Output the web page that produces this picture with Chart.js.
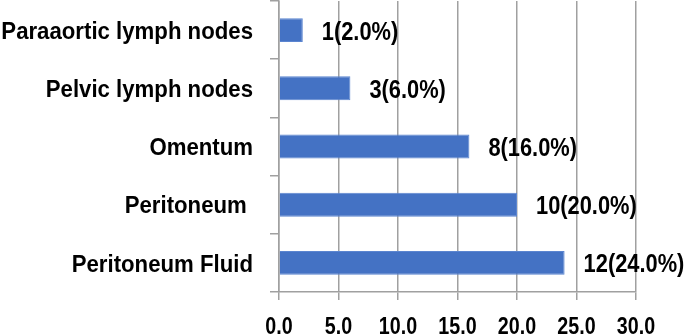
<!DOCTYPE html>
<html>
<head>
<meta charset="utf-8">
<script src="https://cdn.jsdelivr.net/npm/chart.js@4/dist/chart.umd.min.js"></script>
<style>
html,body{margin:0;padding:0;background:#fff;}
#wrap{width:685px;height:335px;position:relative;}
</style>
</head>
<body>
<div id="wrap"><canvas id="c" width="685" height="335"></canvas></div>
<script>
const categories = ['Paraaortic lymph nodes', 'Pelvic lymph nodes', 'Omentum', 'Peritoneum ', 'Peritoneum Fluid'];
const counts = [1, 3, 8, 10, 12];
const percents = [2.0, 6.0, 16.0, 20.0, 24.0];
const xTicks = [0, 5, 10, 15, 20, 25, 30];

const FONT = "'Liberation Sans', Arial, sans-serif";
const GRID = '#a0a0a0';

function squeezeText(ctx, text, x, y, sx, align) {
  ctx.save();
  ctx.translate(x, y);
  ctx.scale(sx, 1);
  ctx.textAlign = align;
  ctx.textBaseline = 'alphabetic';
  ctx.fillText(text, 0, 0);
  ctx.restore();
}

const textPlugin = {
  id: 'textPlugin',
  afterDraw(chart) {
    const ctx = chart.ctx;
    ctx.save();
    ctx.fillStyle = '#000';
    // category labels
    const ys = chart.scales.y;
    ctx.font = 'bold 24px ' + FONT;
    ys.ticks.forEach((t, i) => {
      const y = ys.getPixelForTick(i);
      squeezeText(ctx, ys.getLabelForValue(t.value), ys.right - 9 - 17, y + 8.6, 0.925, 'right');
    });
    // x tick labels
    const xs = chart.scales.x;
    ctx.font = 'bold 24px ' + FONT;
    xs.ticks.forEach(t => {
      const x = xs.getPixelForValue(t.value);
      squeezeText(ctx, Number(t.value).toFixed(1), x, xs.top + 42, 0.82, 'center');
    });
    // data labels
    const meta = chart.getDatasetMeta(0);
    ctx.font = 'bold 26px ' + FONT;
    meta.data.forEach((bar, i) => {
      squeezeText(ctx, counts[i] + '(' + percents[i].toFixed(1) + '%)', bar.x + 19, bar.y + 9.5, 0.84, 'left');
    });
    ctx.restore();
  }
};

new Chart(document.getElementById('c'), {
  type: 'bar',
  data: {
    labels: categories,
    datasets: [{
      data: percents,
      backgroundColor: '#4472C4',
      borderColor: '#5b85d0',
      borderWidth: 1,
      barPercentage: 0.41,
      categoryPercentage: 1.0
    }]
  },
  options: {
    indexAxis: 'y',
    responsive: false,
    animation: false,
    layout: { padding: { left: 0, right: 49, top: 1, bottom: 0 } },
    plugins: { legend: { display: false }, tooltip: { enabled: false } },
    scales: {
      x: {
        min: 0, max: 30,
        afterBuildTicks(scale) { scale.ticks = xTicks.map(v => ({ value: v })); },
        afterFit(scale) { scale.height = 43; },
        ticks: { display: false },
        grid: { color: GRID, lineWidth: 1.5, tickLength: 8, drawOnChartArea: true, drawTicks: true },
        border: { display: true, color: GRID, width: 1.5 }
      },
      y: {
        afterFit(scale) { scale.width = 279; },
        ticks: { display: false },
        grid: { color: GRID, lineWidth: 1.5, tickLength: 9, drawOnChartArea: false, drawTicks: true, offset: true },
        border: { display: true, color: GRID, width: 1.5 }
      }
    }
  },
  plugins: [textPlugin]
});
</script>
</body>
</html>
